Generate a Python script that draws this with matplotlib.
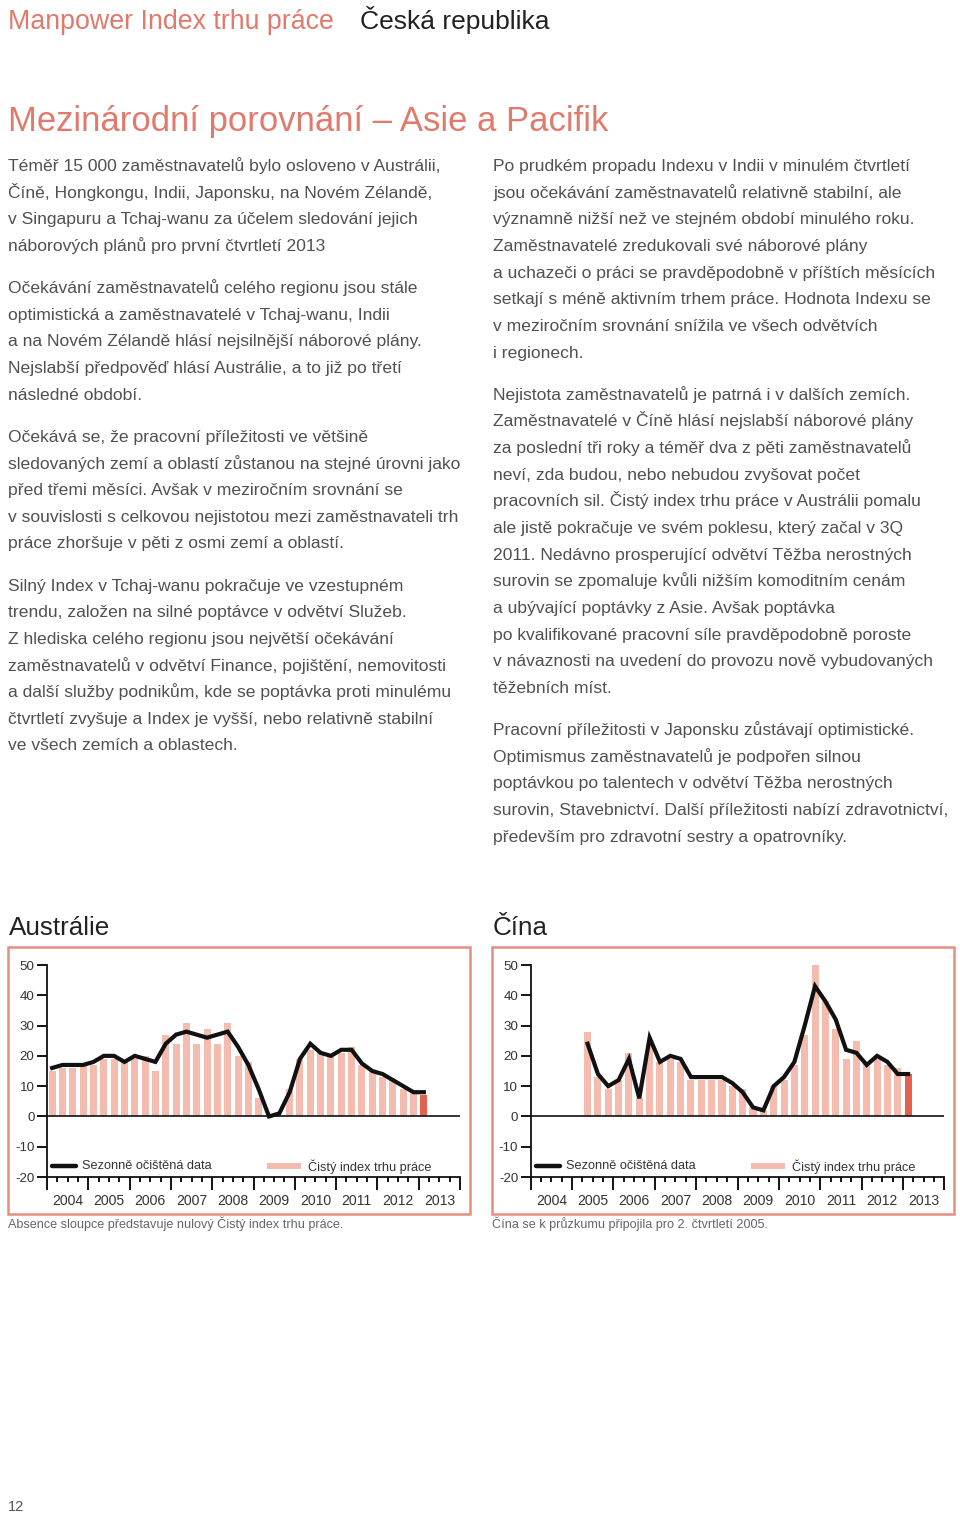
import numpy as np
import matplotlib
matplotlib.use("Agg")
import matplotlib.pyplot as plt
from matplotlib.patches import Rectangle

W, H = 960, 1513
plt.rcParams['font.family'] = ['Liberation Sans', 'DejaVu Sans']
plt.rcParams['axes.unicode_minus'] = False

# --- data (quarterly, 2004Q1 .. 2013Q1) ---
years = [str(y) for y in range(2004, 2014)]

aus_bars = [15, 16, 16, 17,  17, 19, 19, 18,  19, 20, 15, 27,  24, 31, 24, 29,
            24, 31, 20, 18,  6, 0, 0, 9,  19, 22, 21, 20,  21, 23, 17, 15,
            13, 12, 9, 8,  7]
aus_line = [16, 17, 17, 17,  18, 20, 20, 18,  20, 19, 18, 24,  27, 28, 27, 26,
            27, 28, 23, 17,  9, 0, 1, 8,  19, 24, 21, 20,  22, 22, 17.5, 15,
            14, 12, 10, 8,  8]

nan = np.nan
chn_bars = [nan, nan, nan, nan,  nan, 28, 13, 9,  12, 21, 6, 24,  18, 19, 18, 12,
            12, 12, 12, 10,  9, 3, 2, 10,  12, 17, 27, 51,  38, 29, 19, 25,
            18, 19, 17, 16,  14]
chn_line = [nan, nan, nan, nan,  nan, 24, 14, 10,  12, 19, 6, 26,  18, 20, 19, 13,
            13, 13, 13, 11,  8, 3, 2, 10,  13, 18, 30, 43,  38, 32, 22, 21,
            17, 20, 18, 14,  14]

left_col = [
    ["Téměř 15 000 zaměstnavatelů bylo osloveno v Austrálii,",
     "Číně, Hongkongu, Indii, Japonsku, na Novém Zélandě,",
     "v Singapuru a Tchaj-wanu za účelem sledování jejich",
     "náborových plánů pro první čtvrtletí 2013"],
    ["Očekávání zaměstnavatelů celého regionu jsou stále",
     "optimistická a zaměstnavatelé v Tchaj-wanu, Indii",
     "a na Novém Zélandě hlásí nejsilnější náborové plány.",
     "Nejslabší předpověď hlásí Austrálie, a to již po třetí",
     "následné období."],
    ["Očekává se, že pracovní příležitosti ve většině",
     "sledovaných zemí a oblastí zůstanou na stejné úrovni jako",
     "před třemi měsíci. Avšak v meziročním srovnání se",
     "v souvislosti s celkovou nejistotou mezi zaměstnavateli trh",
     "práce zhoršuje v pěti z osmi zemí a oblastí."],
    ["Silný Index v Tchaj-wanu pokračuje ve vzestupném",
     "trendu, založen na silné poptávce v odvětví Služeb.",
     "Z hlediska celého regionu jsou největší očekávání",
     "zaměstnavatelů v odvětví Finance, pojištění, nemovitosti",
     "a další služby podnikům, kde se poptávka proti minulému",
     "čtvrtletí zvyšuje a Index je vyšší, nebo relativně stabilní",
     "ve všech zemích a oblastech."],
]
right_col = [
    ["Po prudkém propadu Indexu v Indii v minulém čtvrtletí",
     "jsou očekávání zaměstnavatelů relativně stabilní, ale",
     "významně nižší než ve stejném období minulého roku.",
     "Zaměstnavatelé zredukovali své náborové plány",
     "a uchazeči o práci se pravděpodobně v příštích měsících",
     "setkají s méně aktivním trhem práce. Hodnota Indexu se",
     "v meziročním srovnání snížila ve všech odvětvích",
     "i regionech."],
    ["Nejistota zaměstnavatelů je patrná i v dalších zemích.",
     "Zaměstnavatelé v Číně hlásí nejslabší náborové plány",
     "za poslední tři roky a téměř dva z pěti zaměstnavatelů",
     "neví, zda budou, nebo nebudou zvyšovat počet",
     "pracovních sil. Čistý index trhu práce v Austrálii pomalu",
     "ale jistě pokračuje ve svém poklesu, který začal v 3Q",
     "2011. Nedávno prosperující odvětví Těžba nerostných",
     "surovin se zpomaluje kvůli nižším komoditním cenám",
     "a ubývající poptávky z Asie. Avšak poptávka",
     "po kvalifikované pracovní síle pravděpodobně poroste",
     "v návaznosti na uvedení do provozu nově vybudovaných",
     "těžebních míst."],
    ["Pracovní příležitosti v Japonsku zůstávají optimistické.",
     "Optimismus zaměstnavatelů je podpořen silnou",
     "poptávkou po talentech v odvětví Těžba nerostných",
     "surovin, Stavebnictví. Další příležitosti nabízí zdravotnictví,",
     "především pro zdravotní sestry a opatrovníky."],
]

SALMON = "#e07a6c"
BAR = "#f3bcae"
BAR_LAST = "#e4604f"
FRAME = "#e48f82"
TXT = "#505050"

fig = plt.figure(figsize=(W / 100, H / 100), dpi=100)


def ftext(x, y, s, size, color=TXT, **kw):
    # x, y in pixels from top-left, y = baseline
    fig.text(x / W, 1 - y / H, s, fontsize=size, color=color,
             va="baseline", ha=kw.pop("ha", "left"), **kw)


ftext(8, 29, "Manpower Index trhu práce", 19.3, color=SALMON)
ftext(360, 29, "Česká republika", 19.0, color="#222222")
ftext(8, 131, "Mezinárodní porovnání – Asie a Pacifik", 24.9, color=SALMON)

# body text columns
LINE = 26.65
GAP = 15.5
for x0, col in [(8, left_col), (493, right_col)]:
    y = 171
    for para in col:
        for line in para:
            ftext(x0, y, line, 12.6)
            y += LINE
        y += GAP

ftext(8, 1511, "12", 10.5, color="#555555")


def chart(x_left, x_right, title, bars, line, note):
    top, bot = 965, 1177
    ax = fig.add_axes([x_left / W, 1 - bot / H, (x_right - x_left) / W, (bot - top) / H])
    n = len(bars)
    x = np.arange(n) + 0.5
    colors = [BAR] * (n - 1) + [BAR_LAST]
    ax.bar(x, np.nan_to_num(bars), width=0.68, color=colors, zorder=1)
    ax.plot(x, line, color="#111111", lw=3.0, solid_joinstyle="miter", zorder=3)
    ax.axhline(0, color="#111111", lw=1.2, zorder=2)
    ax.set_xlim(0, 40)
    ax.set_ylim(-20, 50)
    for s in ["top", "right"]:
        ax.spines[s].set_visible(False)
    for s in ["left", "bottom"]:
        ax.spines[s].set_linewidth(1.3)
        ax.spines[s].set_color("#111111")
    ax.set_yticks(range(-20, 51, 10))
    ax.tick_params(axis="y", length=7, width=1.3, labelsize=9.6, pad=2, labelcolor="#333333")
    ax.set_xticks(range(0, 41, 4))
    ax.set_xticklabels([])
    ax.set_xticks(range(0, 41), minor=True)
    ax.tick_params(axis="x", which="major", length=9.5, width=1.3)
    ax.tick_params(axis="x", which="minor", length=3.5, width=1.3)
    for i, yr in enumerate(years):
        ax.text(i * 4 + 2, -29.3, yr, ha="center", va="baseline", fontsize=10.1,
                color="#333333", clip_on=False)
    # legend
    ax.plot([0.5, 2.8], [-16.5, -16.5], color="#111111", lw=3.2, solid_capstyle="round")
    ax.text(3.4, -16.5, "Sezonně očištěná data", va="center", fontsize=9.2,
            color="#333333")
    ax.add_patch(Rectangle((21.3, -17.4), 3.3, 1.9, color=BAR, lw=0))
    ax.text(25.3, -16.5, "Čistý index trhu práce", va="center", fontsize=9.2,
            color="#333333")
    # frame and headings
    fx0 = x_left - 39
    fig.patches.append(Rectangle((fx0 / W, 1 - 1214 / H), (x_right + 10 - fx0) / W, (1214 - 947) / H,
                                 transform=fig.transFigure, fill=False, ec=FRAME, lw=1.8))
    ftext(fx0 + 1, 935, title, 18.7, color="#222222")
    ftext(fx0, 1228, note, 9.05, color="#666666")


chart(47, 460, "Austrálie", aus_bars, aus_line,
      "Absence sloupce představuje nulový Čistý index trhu práce.")
chart(530.7, 944.3, "Čína", chn_bars, chn_line,
      "Čína se k průzkumu připojila pro 2. čtvrtletí 2005.")

fig.savefig("out.png", dpi=100)
